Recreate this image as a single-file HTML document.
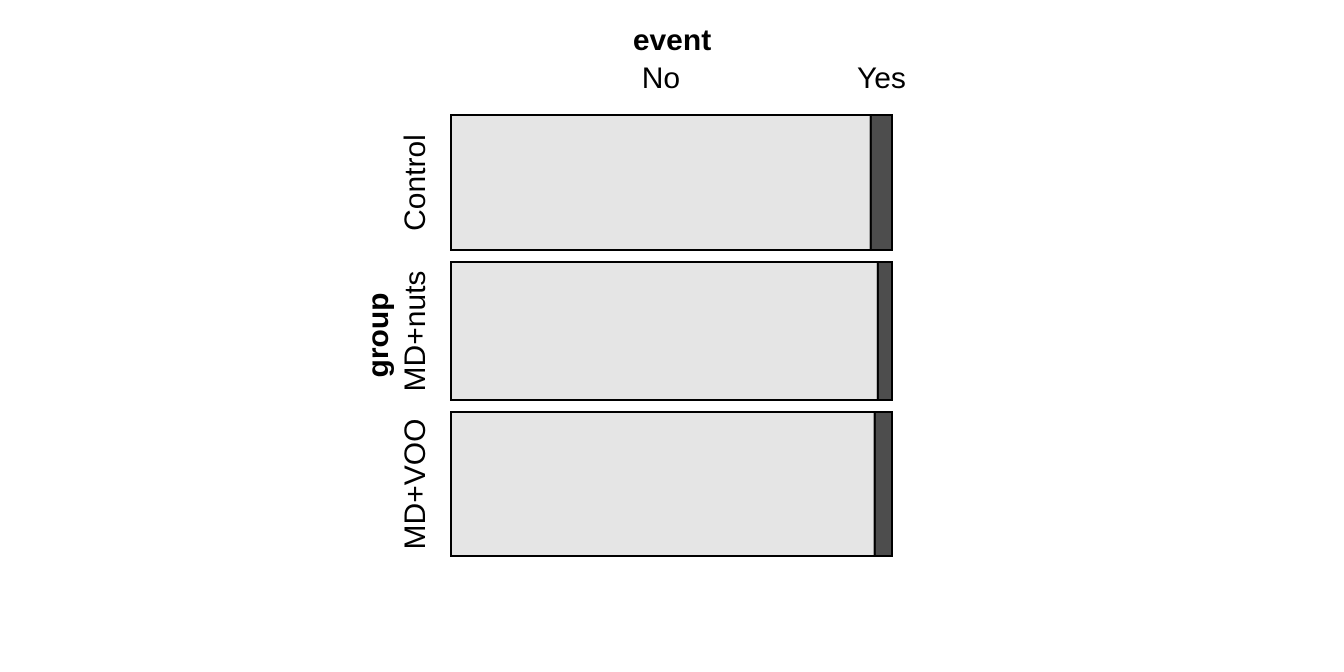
<!DOCTYPE html>
<html><head><meta charset="utf-8"><style>
html,body{margin:0;padding:0;background:#fff;}
svg{display:block;font-family:"Liberation Sans",Arial,sans-serif;}
</style></head><body>
<svg id="chart" width="1344" height="672">
<text x="672" y="50" text-anchor="middle" font-size="30" font-weight="bold">event</text>
<text x="388" y="335" text-anchor="middle" font-size="30" font-weight="bold" transform="rotate(-90 388 335)">group</text>
<g id="marks"></g>
</svg>
<script>
const groups = ["Control","MD+nuts","MD+VOO"];
const groupSizes = [135, 138, 144];
const yesShare = [0.048, 0.032, 0.039];
const eventLabels = ["No","Yes"];

const NS="http://www.w3.org/2000/svg";
const g=document.getElementById('marks');
const x0=451, x1=892, y0=115, y1=556, gap=12;
const total=groupSizes.reduce((a,b)=>a+b,0);
const avail=(y1-y0)-gap*(groups.length-1);
function xScale(f){return x0+(x1-x0)*f;}
function mk(tag,attrs){const e=document.createElementNS(NS,tag);for(const k in attrs)e.setAttribute(k,attrs[k]);g.appendChild(e);return e;}
let y=y0;
groups.forEach((name,i)=>{
  const h=avail*groupSizes[i]/total;
  const split=xScale(1-yesShare[i]);
  const r1=mk('rect',{x:x0,y:y,width:split-x0,height:h,fill:'#e5e5e5',stroke:'#000','stroke-width':2});
  
  
  const r2=mk('rect',{x:split,y:y,width:x1-split,height:h,fill:'#4d4d4d',stroke:'#000','stroke-width':2});
  
  
  const cy=y+h/2;
  const t=mk('text',{x:425,y:cy,'text-anchor':'middle','font-size':30,transform:`rotate(-90 425 ${cy})`});
  t.textContent=name;
  
  
  y+=h+gap;
});
const noC=(x0+xScale(1-yesShare[0]))/2;
const yesC=(xScale(1-yesShare[0])+x1)/2;
[[noC,eventLabels[0]],[yesC,eventLabels[1]]].forEach(([cx,l])=>{
  const t=mk('text',{x:cx,y:88,'text-anchor':'middle','font-size':30});
  t.textContent=l;
  
  
});
</script>
</body></html>
